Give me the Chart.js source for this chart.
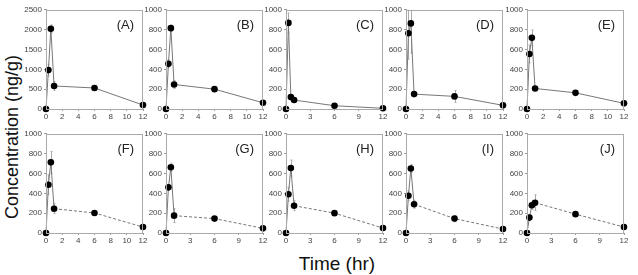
<!DOCTYPE html>
<html>
<head>
<meta charset="utf-8">
<script src="https://cdn.jsdelivr.net/npm/chart.js@4"></script>
<style>
  html,body{margin:0;padding:0;background:#fff;}
  #wrap{position:relative;width:638px;height:275px;overflow:hidden;font-family:Arial,"Liberation Sans",sans-serif;}
  canvas{position:absolute;}
  #ylab{position:absolute;left:12px;top:137px;transform:translate(-50%,-50%) rotate(-90deg);font-size:18px;color:#111;white-space:nowrap;}
  #xlab{position:absolute;left:337px;top:264px;transform:translate(-50%,-50%);font-size:19px;color:#111;white-space:nowrap;}
</style>
</head>
<body>
<div id="wrap">
  <div id="ylab">Concentration (ng/g)</div>
  <div id="xlab">Time (hr)</div>
</div>
<script>
// Sampling times (hr)
const times = [0, 0.3, 0.6, 1, 6, 12];
const panelLabels = ["(A)","(B)","(C)","(D)","(E)","(F)","(G)","(H)","(I)","(J)"];
// Mean concentrations (ng/g)
const concA = [0, 980, 2020, 580, 530, 100];
const concB = [0, 455, 815, 247, 200, 63];
const concC = [0, 868, 120, 90, 33, 7];
const concD = [0, 763, 863, 150, 127, 37];
const concE = [0, 555, 717, 207, 163, 57];
const concF = [0, 487, 712, 245, 202, 60];
const concG = [0, 460, 663, 175, 145, 47];
const concH = [0, 390, 655, 275, 200, 50];
const concI = [0, 375, 650, 290, 145, 40];
const concJ = [0, 155, 280, 305, 190, 60];
// Standard deviations (ng/g)
const sdA = [0, 150, 100, 110, 50, 20];
const sdB = [0, 40, 30, 40, 20, 15];
const sdC = [0, 100, 20, 15, 10, 5];
const sdD = [0, 260, 300, 20, 60, 10];
const sdE = [0, 90, 80, 20, 15, 10];
const sdF = [0, 100, 110, 50, 15, 10];
const sdG = [0, 30, 40, 70, 20, 10];
const sdH = [0, 70, 80, 50, 15, 10];
const sdI = [0, 50, 40, 40, 30, 10];
const sdJ = [0, 30, 40, 80, 15, 10];
// Axis ticks
const yMaxes = [2500, 1000, 1000, 1000, 1000, 1000, 1000, 1000, 1000, 1000];
const yStepsList = [500, 200, 200, 200, 200, 200, 200, 200, 200, 200];
const xStepsList = [2, 2, 3, 2, 2, 2, 3, 3, 3, 3];

const concs = [concA, concB, concC, concD, concE, concF, concG, concH, concI, concJ];
const sds = [sdA, sdB, sdC, sdD, sdE, sdF, sdG, sdH, sdI, sdJ];

const colLefts = [46, 166, 286, 406, 527];
const rowTops = [9, 133];
const plotW = 97, plotH = 100;
const axW = 38, axH = 18, padT = 6, padR = 8;

const errPlugin = {
  id: 'err',
  beforeDatasetsDraw(chart, args, opts) {
    const {ctx, chartArea: a} = chart;
    const xs = chart.scales.x, ys = chart.scales.y;
    const d = opts.mean, e = opts.sd;
    ctx.save();
    ctx.beginPath();
    ctx.rect(a.left, a.top, a.right - a.left, a.bottom - a.top + 4);
    ctx.clip();
    ctx.strokeStyle = '#aaa';
    ctx.lineWidth = 1;
    for (let i = 0; i < d.length; i++) {
      if (!e[i]) continue;
      const x = Math.round(xs.getPixelForValue(times[i])) + 0.5;
      const y1 = ys.getPixelForValue(d[i] + e[i]);
      const y2 = ys.getPixelForValue(Math.max(0, d[i] - e[i]));
      ctx.beginPath();
      ctx.moveTo(x, y1); ctx.lineTo(x, y2);
      ctx.moveTo(x - 1, y1); ctx.lineTo(x + 1, y1);
      ctx.moveTo(x - 1, y2); ctx.lineTo(x + 1, y2);
      ctx.stroke();
    }
    ctx.restore();
  },
  afterDraw(chart, args, opts) {
    const {ctx, chartArea: a} = chart;
    ctx.save();
    ctx.strokeStyle = '#aaa';
    ctx.lineWidth = 1;
    ctx.strokeRect(Math.round(a.left) + 0.5, Math.round(a.top) + 0.5, Math.round(a.right - a.left) - 1, Math.round(a.bottom - a.top));
    ctx.fillStyle = '#222';
    ctx.font = '13px Arial, "Liberation Sans", sans-serif';
    ctx.textAlign = 'right';
    ctx.textBaseline = 'middle';
    ctx.fillText(opts.label, a.right - 9, a.top + 16);
    ctx.restore();
  }
};

const wrap = document.getElementById('wrap');
for (let p = 0; p < 10; p++) {
  const col = p % 5, row = Math.floor(p / 5);
  const cv = document.createElement('canvas');
  const W = axW + plotW + padR, H = padT + plotH + axH;
  cv.width = W; cv.height = H;
  cv.style.width = W + 'px'; cv.style.height = H + 'px';
  cv.style.left = (colLefts[col] - axW) + 'px';
  cv.style.top = (rowTops[row] - padT) + 'px';
  wrap.appendChild(cv);
  const dashed = row === 1;
  new Chart(cv, {
    type: 'line',
    data: {
      datasets: [{
        data: times.map((t, i) => ({x: t, y: concs[p][i]})),
        borderColor: '#777',
        borderWidth: 1,
        pointRadius: 3.3,
        pointBackgroundColor: '#000',
        pointBorderColor: '#000',
        pointBorderWidth: 0,
        tension: 0,
        clip: 6,
        segment: {
          borderDash: ctx => (dashed && ctx.p0.parsed.x >= 1) ? [3, 2] : undefined
        }
      }]
    },
    options: {
      responsive: false,
      animation: false,
      devicePixelRatio: 1,
      layout: {padding: {top: padT, right: padR, left: 0, bottom: 0}},
      plugins: {
        legend: {display: false},
        tooltip: {enabled: false},
        err: {mean: concs[p], sd: sds[p], label: panelLabels[p]}
      },
      scales: {
        x: {
          type: 'linear', min: 0, max: 12,
          ticks: {stepSize: xStepsList[p], color: '#444', font: {size: 8, family: 'Arial'}, padding: 1, maxRotation: 0, callback: v => String(v)},
          grid: {drawOnChartArea: false, drawTicks: true, tickLength: 2, color: '#999'},
          border: {color: '#999'},
          afterFit: s => { s.height = axH; }
        },
        y: {
          type: 'linear', min: 0, max: yMaxes[p],
          ticks: {stepSize: yStepsList[p], color: '#444', font: {size: 8, family: 'Arial'}, padding: 2, callback: v => String(v)},
          grid: {drawOnChartArea: false, drawTicks: true, tickLength: 2, color: '#999'},
          border: {color: '#999'},
          afterFit: s => { s.width = axW; }
        }
      }
    },
    plugins: [errPlugin]
  });
}
</script>
</body>
</html>
